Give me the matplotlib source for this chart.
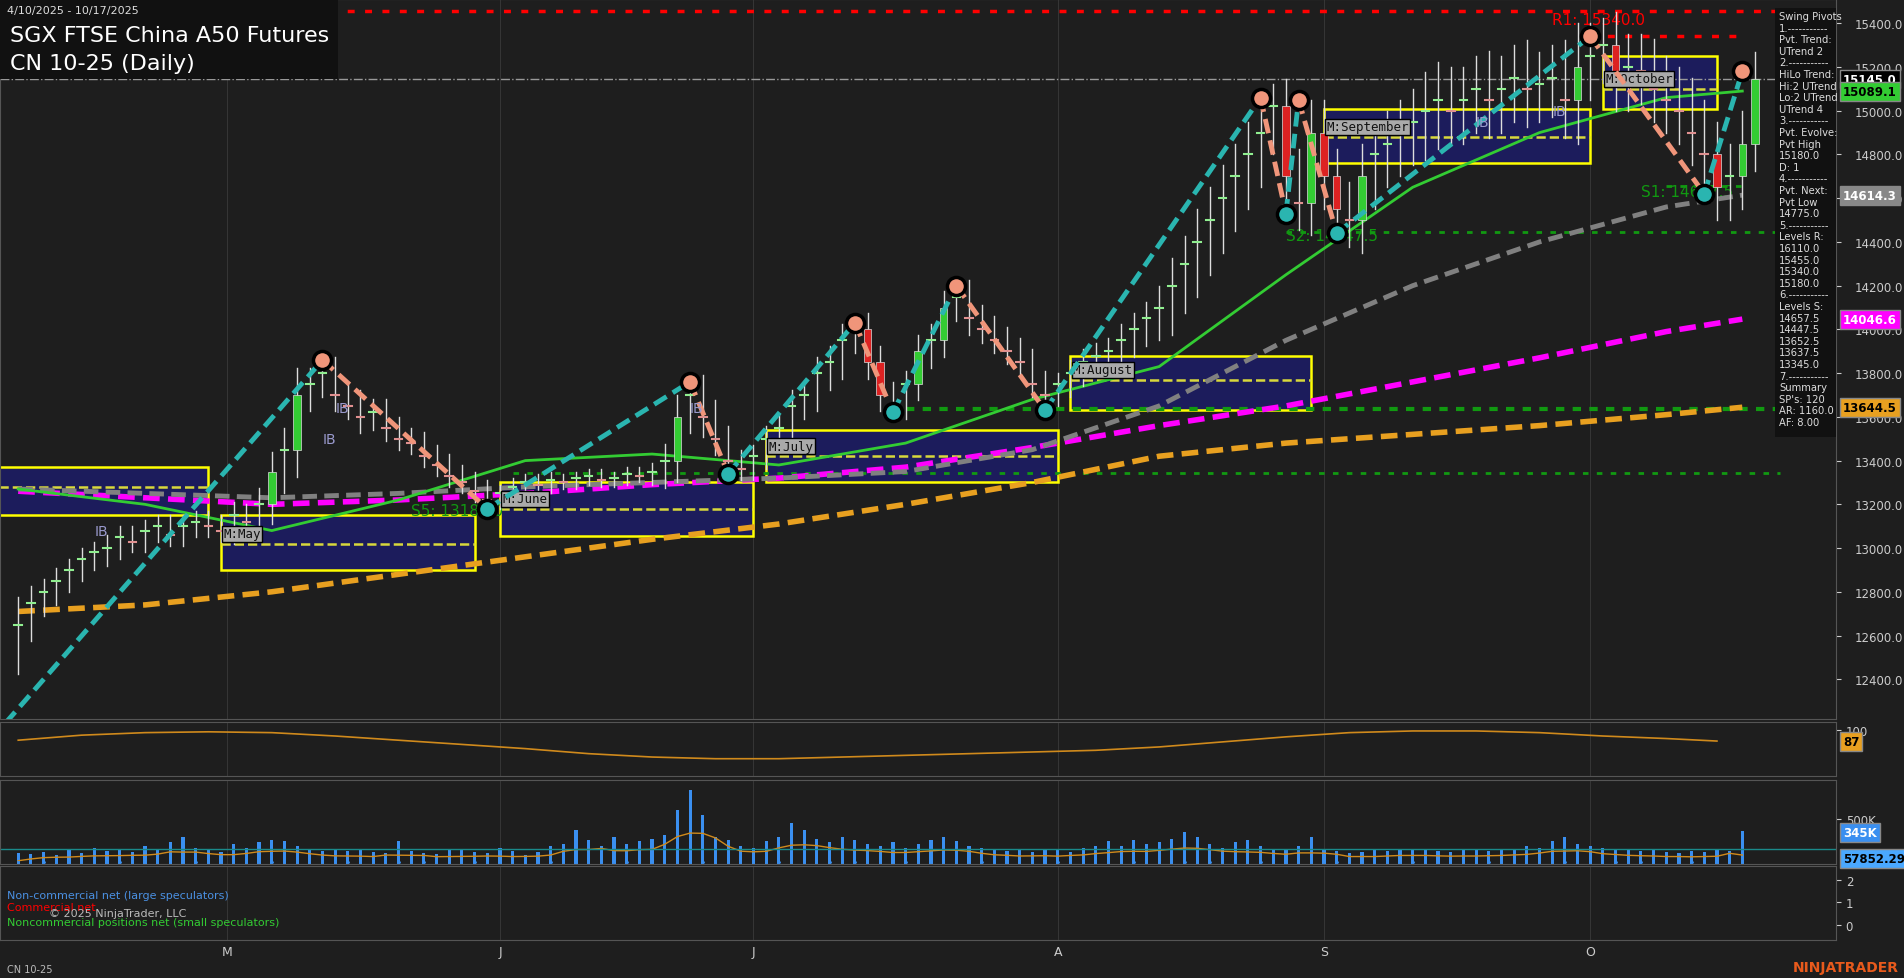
import matplotlib
matplotlib.use("Agg")
import matplotlib.pyplot as plt
from matplotlib.patches import Rectangle
import numpy as np

# ---------------- data ----------------
closes = [12650,12750,12800,12850,12900,12950,12980,13000,13050,13030,13080,13100,13060,13100,13120,
          13100,13080,13150,13120,13200,13350,13450,13700,13750,13800,13700,13650,13600,13620,13550,13500,13480,13420,13380,13330,13300,13260,
          13220,13250,13280,13300,13290,13310,13300,13320,13330,13310,13320,13340,13330,13350,13400,13600,13700,13600,13500,13400,13360,
          13420,13500,13550,13650,13700,13800,13850,13950,14000,13850,13700,13650,13750,13900,13950,14100,14150,14050,14000,13950,13900,13850,13750,
          13700,13750,13800,13850,13880,13900,13950,14000,14050,14100,14200,14300,14400,14500,14600,14700,14800,14900,15020,14700,14580,14900,
          14700,14550,14500,14700,14800,14850,14900,14950,15000,15050,15000,15050,15100,15050,15100,15150,15100,15120,15150,15050,15200,
          15250,15300,15150,15200,15180,15100,15050,15000,14900,14800,14650,14700,14850,15145]
ranges = [250,150,120,120,100,100,100,120,100,100,100,100,100,100,100,
          100,100,120,100,150,180,200,250,150,120,150,120,150,120,120,100,100,100,100,100,100,100,
          100,80,80,80,80,80,60,60,60,60,60,60,60,80,150,200,150,180,150,120,100,
          100,120,120,150,120,150,150,150,120,150,150,120,120,150,150,150,120,150,120,120,120,120,120,
          120,100,120,120,120,120,150,150,150,200,250,250,300,300,300,300,300,300,200,250,250,300,
          300,250,250,300,300,300,300,300,350,350,300,300,300,350,300,300,350,300,300,350,400,
          300,250,300,300,300,300,300,300,300,300,300,300,300,250]
volumes = [120,110,130,100,150,120,180,140,160,130,200,150,240,300,180,
           150,130,220,180,240,260,250,200,160,140,150,140,150,130,120,250,140,120,110,160,150,130,
           120,180,140,100,130,200,220,380,260,200,300,220,250,280,320,600,820,540,300,260,200,
           180,250,300,450,380,280,240,300,260,220,200,240,180,220,260,300,250,200,180,150,140,160,130,
           160,150,130,180,200,250,200,260,220,240,280,350,300,220,180,240,260,200,150,160,200,
           300,150,140,120,130,150,140,160,170,150,140,130,150,160,140,150,170,200,180,250,300,
           220,200,180,150,160,140,150,130,120,140,130,150,140,360]
osc_idx = [0,5,10,15,20,25,30,35,40,45,50,55,60,65,70,75,80,85,90,95,100,105,110,115,120,125,130,134]
osc_val = [88,94,97,98,97,93,88,83,78,72,68,66,66,68,70,72,74,76,80,86,92,97,99,99,97,93,90,87]
ma_idx = [0,10,20,30,40,50,60,70,80,90,100,110,120,130,136]
ma_fast = [13270,13200,13080,13220,13400,13430,13380,13480,13680,13830,14250,14650,14900,15060,15090]
ma_mid = [13270,13250,13230,13250,13280,13300,13320,13350,13450,13650,13950,14200,14400,14560,14614]
ma_slow = [13260,13230,13200,13220,13250,13290,13320,13370,13460,13560,13650,13760,13870,13990,14047]
ma_long = [12710,12740,12800,12880,12960,13040,13110,13200,13300,13420,13480,13520,13560,13610,13644]
piv_hi = [(24,13860),(53,13760),(66,14030),(74,14200),(98,15060),(101,15050),(124,15340),(136,15180)]
piv_lo = [(37,13180),(56,13340),(69,13620),(81,13630),(100,14530),(104,14440),(133,14620)]
months = ["April","May","June","July","August","September","October"]
box_x = [(-2,15),(16,36),(38,58),(59,82),(83,102),(103,124),(125,134)]
box_hi = [13370,13150,13300,13540,13880,15010,15250]
box_lo = [13150,12900,13055,13300,13630,14760,15010]
box_mid = [13280,13020,13180,13420,13770,14880,15100]
month_ticks = [16.5, 38, 58, 82, 103, 124]
month_labels = ["M","J","J","A","S","O"]
info = ["Swing Pivots","1.-----------","Pvt. Trend:","UTrend 2","2.-----------","HiLo Trend:","Hi:2 UTrend",
        "Lo:2 UTrend","UTrend 4","3.-----------","Pvt. Evolve:","Pvt High","15180.0","D: 1","4.-----------",
        "Pvt. Next:","Pvt Low","14775.0","5.-----------","Levels R:","16110.0","15455.0","15340.0","15180.0",
        "6.-----------","Levels S:","14657.5","14447.5","13652.5","13637.5","13345.0","7.-----------",
        "Summary","SP's: 120","AR: 1160.0","AF: 8.00"]

BG = "#1e1e1e"
W, H = 1568, 806   # layout coordinate space
fig = plt.figure(figsize=(19.04, 9.79), dpi=100, facecolor=BG)
def ax_at(y0, y1, x1=1512):
    a = fig.add_axes([0, 1-y1/H, x1/W, (y1-y0)/H], facecolor=BG)
    for s in a.spines.values():
        s.set_color("#555555")
    a.tick_params(colors="#cccccc", labelsize=8.5)
    a.yaxis.tick_right()
    return a

xl = (-15/10.44, (1512-15)/10.44)
n = len(closes)

ax = ax_at(0, 593)
ax.set_xlim(*xl)
ax.set_ylim(12217, 15511)
ax.set_xticks([])
ax.set_yticks(np.arange(12400, 15500, 200))
ax.set_yticklabels([f"{v:.1f}" for v in np.arange(12400, 15500, 200)])
ax.tick_params(axis="y", pad=10, labelsize=8.5)

# boxes
for i, m in enumerate(months):
    a0, a1 = box_x[i]
    ax.add_patch(Rectangle((a0, box_lo[i]), a1-a0, box_hi[i]-box_lo[i], facecolor="#1c1c5c", edgecolor="yellow", lw=1.8, zorder=1))
    ax.plot([a0, a1], [box_mid[i]]*2, color="#d8d83c", ls="--", lw=1.8, zorder=2)
    if i > 0:
        ax.text(a0+0.2, box_mid[i]+30, "M:"+m, color="#111", fontsize=9, family="DejaVu Sans Mono",
                bbox=dict(facecolor="#aaaaaa", edgecolor="black", pad=1), zorder=6)

# level lines
ax.axhline(15455, color="red", ls=(0, (2, 3)), lw=2.5, zorder=2)
ax.plot([124, 136], [15340]*2, color="red", ls=(0, (2, 3)), lw=2.5, zorder=2)
ax.axhline(15145, color="#999999", ls="-.", lw=1, zorder=2)
ax.plot([100, 139], [14447.5]*2, color="#119911", ls=(0, (2, 3)), lw=2, zorder=2)
ax.plot([70, 139], [13637.5]*2, color="#119911", ls=(0, (2, 2)), lw=3, zorder=2)
ax.plot([39, 139], [13345]*2, color="#119911", ls=(0, (2, 3)), lw=2, zorder=2)
ax.plot([130, 136], [14657.5]*2, color="#119911", ls=(0, (2, 3)), lw=2, zorder=2)
ax.text(121, 15395, "R1: 15340.0", color="red", fontsize=11)
ax.text(128, 14610, "S1: 14657.5", color="#119911", fontsize=11)
ax.text(100, 14410, "S2: 14447.5", color="#119911", fontsize=11)
ax.text(31, 13150, "S5: 13180.0", color="#119911", fontsize=11)

# moving averages
ax.plot(ma_idx, ma_long, color="#e8a020", ls=(0, (3, 1.5)), lw=4, zorder=3)
ax.plot(ma_idx, ma_slow, color="#ff00ff", ls=(0, (3, 1.5)), lw=4, zorder=3)
ax.plot(ma_idx, ma_mid, color="#808080", ls=(0, (3, 1.5)), lw=3.5, zorder=3)
ax.plot(ma_idx, ma_fast, color="#33cc33", lw=2, zorder=3)

# candles
opens = [closes[0]-100] + closes[:-1]
for i in range(n):
    r = ranges[i] if i < len(ranges) else 250
    hi = max(opens[i], closes[i]) + r/2
    lo = min(opens[i], closes[i]) - r/2
    ax.plot([i, i], [lo, hi], color="#dddddd", lw=1, zorder=4)
    if abs(closes[i]-opens[i]) >= 140:
        c = "#33cc33" if closes[i] > opens[i] else "#dd2222"
        b = min(opens[i], closes[i])
        ax.add_patch(Rectangle((i-0.3, b), 0.6, abs(closes[i]-opens[i]), facecolor=c, edgecolor="#dddddd", lw=0.5, zorder=5))
    else:
        ax.plot([i-0.3, i+0.3], [closes[i]]*2, color="#90ee90" if closes[i] >= opens[i] else "#e09090", lw=1.5, zorder=5)

# swing lines
pivs = sorted(piv_hi + piv_lo)
pts = [(-1, 12200)] + pivs
for (a, pa), (b, pb) in zip(pts[:-1], pts[1:]):
    col = "#2ab5b0" if pb > pa else "#f0957a"
    ax.plot([a, b], [pa, pb], color=col, ls=(0, (3, 1.5)), lw=3.5, zorder=6)
for i, p in piv_hi:
    ax.plot(i, p, "o", ms=13, mfc="#f0957a", mec="black", mew=2.5, zorder=7)
for i, p in piv_lo:
    ax.plot(i, p, "o", ms=13, mfc="#2ab5b0", mec="black", mew=2.5, zorder=7)
for i, p in [(6, 13060), (25, 13620), (53, 13620), (115, 14930), (121, 14980), (24, 13480)]:
    ax.text(i, p, "IB", color="#9999cc", fontsize=10, zorder=6)

# right-axis tags
def tag(a, y, txt, fc, tc="black"):
    a.annotate(txt, xy=(1.0, y), xycoords=("axes fraction", "data"), xytext=(5, 0), textcoords="offset points",
               va="center", ha="left", fontsize=8.5, color=tc, fontweight="bold",
               bbox=dict(boxstyle="square,pad=0.25", facecolor=fc, edgecolor="#888888"), annotation_clip=False, zorder=10)
tag(ax, 15145, "15145.0", "black", "white")
tag(ax, 15089.1, "15089.1", "#33cc33")
tag(ax, 14614.3, "14614.3", "#888888", "white")
tag(ax, 14046.6, "14046.6", "#ff00ff", "white")
tag(ax, 13644.5, "13644.5", "#e8a020")

# info box
fig.patches.append(Rectangle((1462/W, 1-361/H), 50/W, 354/H, transform=fig.transFigure, facecolor="#111111", zorder=5))
for k, t in enumerate(info):
    fig.text(1465/W, 1-(14+k*9.55)/H, t, color="#dddddd", fontsize=7.2, va="center", zorder=6)

# title
fig.patches.append(Rectangle((0, 1-66/H), 278/W, 66/H, transform=fig.transFigure, facecolor="#111111", zorder=5))
fig.text(6/W, 1-9/H, "4/10/2025 - 10/17/2025", color="#dddddd", fontsize=8, va="center", zorder=6)
fig.text(8/W, 1-30/H, "SGX FTSE China A50 Futures", color="white", fontsize=16, va="center", zorder=6)
fig.text(8/W, 1-53/H, "CN 10-25 (Daily)", color="white", fontsize=16, va="center", zorder=6)

# oscillator
ao = ax_at(595, 640)
ao.set_xlim(*xl); ao.set_ylim(45, 110); ao.set_xticks([])
ao.set_yticks([100]); ao.tick_params(axis="y", labelsize=8.5)
ao.plot(osc_idx, osc_val, color="#d08a1c", lw=1.2)
tag(ao, 87, "87", "#e8a020")

# volume
av = ax_at(643, 712)
xv = np.arange(len(volumes))
av.set_xlim(*xl); av.set_ylim(0, 932); av.set_xticks([])
av.set_yticks([500]); av.set_yticklabels(["500K"]); av.tick_params(axis="y", labelsize=8.5)
av.bar(xv, volumes, width=0.25, color="#3a8ff0")
vol_s = np.convolve(volumes, np.ones(4)/4, mode="same")
av.plot(xv, vol_s*0.6, color="#d08a1c", lw=1)
av.axhline(170, color="#1a8a8a", lw=1)
av.plot(xv[::2], [15]*len(xv[::2]), ".", color="#3a8ff0", ms=2)
tag(av, 345, "345K", "#3a8ff0", "white")
tag(av, 60, "57852.29", "#4aa8ff", "black")

# COT
ac = ax_at(714, 775)
ac.set_xlim(*xl); ac.set_ylim(-0.7, 2.6)
ac.set_yticks([0, 1, 2]); ac.tick_params(axis="y", labelsize=8.5)
ac.set_xticks(month_ticks); ac.set_xticklabels(month_labels)
ac.tick_params(axis="x", colors="#cccccc", labelsize=9, length=0)
for t in month_ticks:
    for a in (ax, ao, av, ac):
        a.axvline(t, color="#3a3a3a", lw=0.6, zorder=0)
fig.text(6/W, 1-740/H, "Non-commercial net (large speculators)", color="#4a90e2", fontsize=8)
fig.text(6/W, 1-750/H, "Commercial net", color="red", fontsize=8)
fig.text(40/W, 1-755/H, "© 2025 NinjaTrader, LLC", color="#bbbbbb", fontsize=8)
fig.text(6/W, 1-762/H, "Noncommercial positions net (small speculators)", color="#33cc33", fontsize=8)
fig.text(6/W, 1-799/H, "CN 10-25", color="#bbbbbb", fontsize=7, va="center")
fig.text(1564/W, 1-797/H, "NINJATRADER", color="#e85a1c", fontsize=10, fontweight="bold", ha="right", va="center")

fig.savefig("out.png", dpi=100, facecolor=BG)
